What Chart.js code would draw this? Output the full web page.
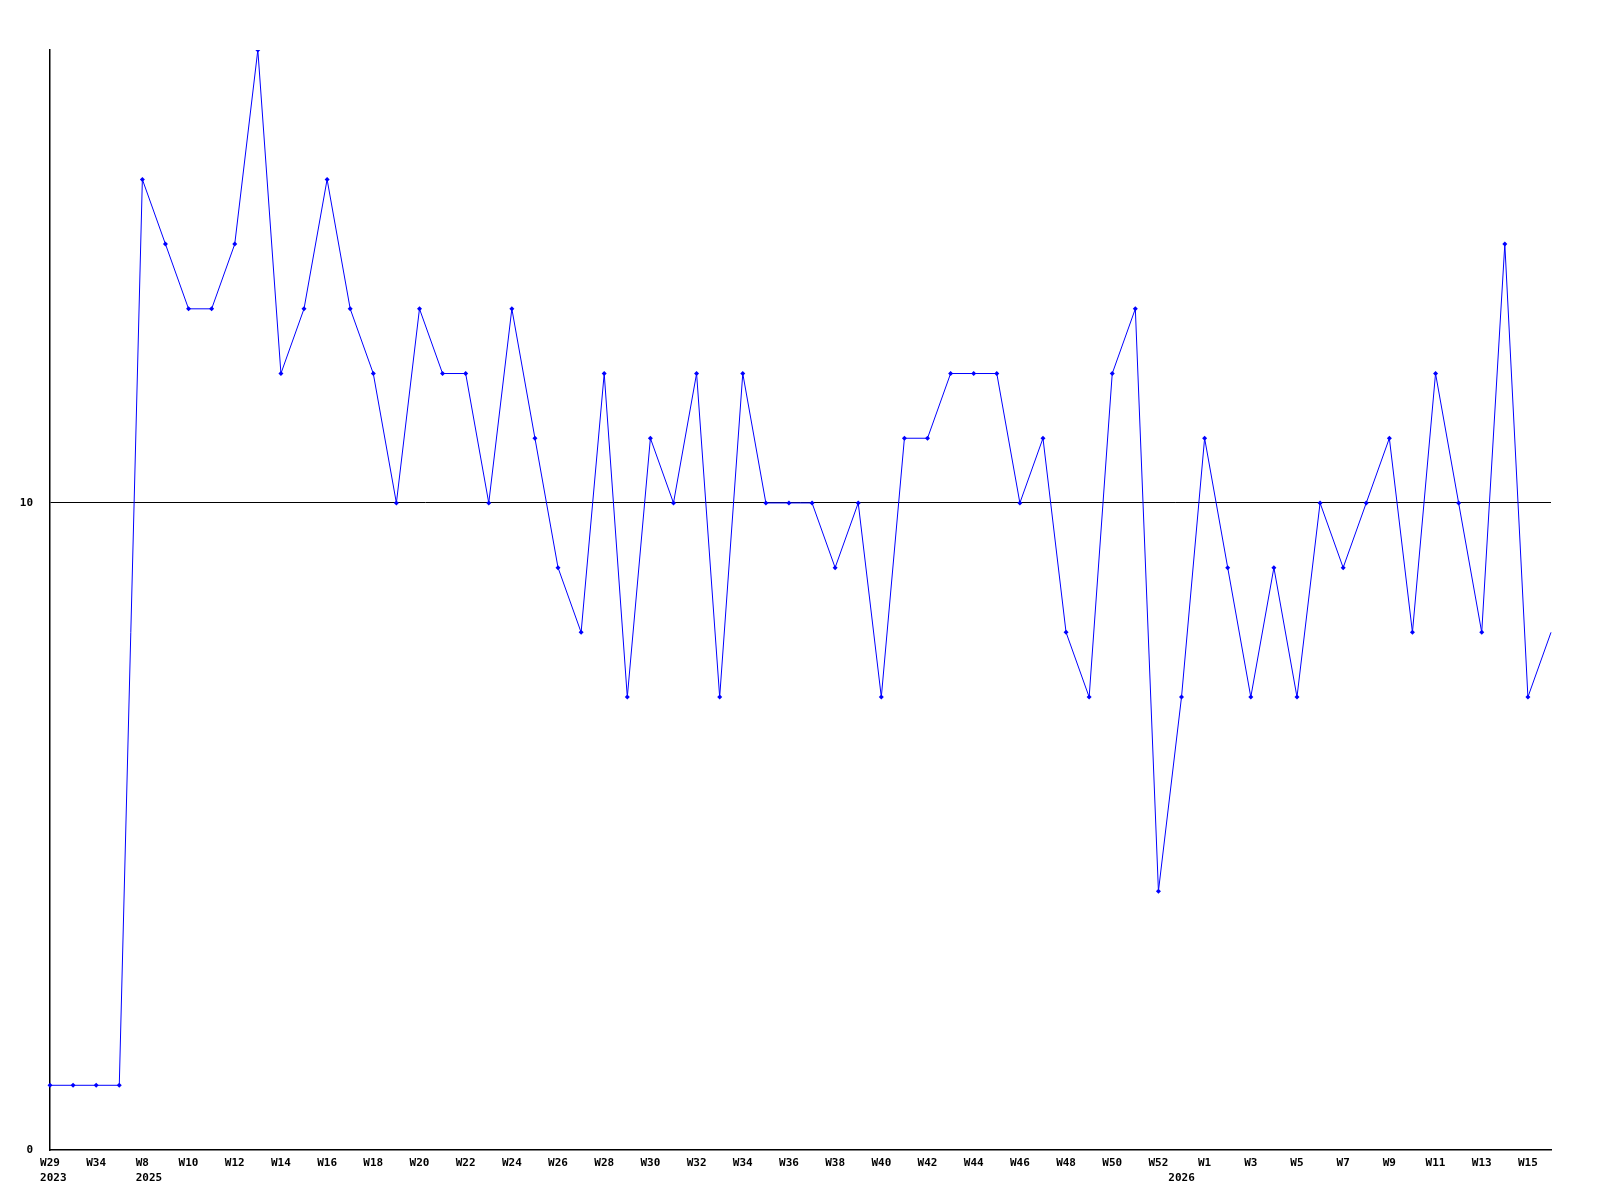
<!DOCTYPE html>
<html>
<head>
<meta charset="utf-8">
<script src="https://cdn.jsdelivr.net/npm/chart.js@4/dist/chart.umd.min.js"></script>
<style>
  html, body { margin: 0; padding: 0; background: #fff; }
  #wrap { width: 1600px; height: 1200px; }
</style>
</head>
<body>
<div id="wrap"><canvas id="weekly"></canvas></div>
<script>
// week labels (only every other one is printed on the axis)
const weeks = ['W29', 'W32', 'W34', 'W36',
  'W8', 'W9', 'W10', 'W11', 'W12', 'W13', 'W14', 'W15', 'W16', 'W17', 'W18', 'W19',
  'W20', 'W21', 'W22', 'W23', 'W24', 'W25', 'W26', 'W27', 'W28', 'W29', 'W30', 'W31',
  'W32', 'W33', 'W34', 'W35', 'W36', 'W37', 'W38', 'W39', 'W40', 'W41', 'W42', 'W43',
  'W44', 'W45', 'W46', 'W47', 'W48', 'W49', 'W50', 'W51', 'W52', 'W53',
  'W1', 'W2', 'W3', 'W4', 'W5', 'W6', 'W7', 'W8', 'W9', 'W10', 'W11', 'W12', 'W13',
  'W14', 'W15', 'W16'];
// year shown under the first week of each year (padded so it sits left-aligned)
const years = { 0: ' 2023', 4: '  2025', 49: '2026' };
const counts = [1, 1, 1, 1,
  15, 14, 13, 13, 14, 17, 12, 13, 15, 13, 12, 10,
  13, 12, 12, 10, 13, 11, 9, 8, 12, 7, 11, 10,
  12, 7, 12, 10, 10, 10, 9, 10, 7, 11, 11, 12,
  12, 12, 10, 11, 8, 7, 12, 13, 4, 7,
  11, 9, 7, 9, 7, 10, 9, 10, 11, 8, 12, 10, 8,
  14, 7, 8];
const yTicks = [0, 10];

const lastIdx = counts.length - 1;

new Chart(document.getElementById('weekly'), {
  type: 'line',
  data: {
    labels: weeks,
    datasets: [{
      data: counts,
      borderColor: '#0000ff',
      backgroundColor: '#0000ff',
      borderWidth: 1,
      tension: 0,
      pointStyle: 'rectRot',
      pointRadius: (c) => c.dataIndex === lastIdx ? 0 : 2.5,
      pointBorderWidth: 0
    }]
  },
  options: {
    responsive: true,
    maintainAspectRatio: false,
    animation: false,
    events: [],
    layout: { padding: { top: 50, right: 49, left: 0, bottom: 0 } },
    plugins: { legend: { display: false }, tooltip: { enabled: false } },
    scales: {
      x: {
        offset: false,
        grid: { display: false, drawTicks: false },
        border: { color: '#000', width: 1.5 },
        afterFit: (s) => { s.height = 50; },
        ticks: {
          autoSkip: false,
          maxRotation: 0,
          padding: 6,
          color: '#000',
          font: { family: 'DejaVu Sans Mono', size: 11, weight: 'bold', lineHeight: 1.35 },
          callback: function(v, i) {
            const wk = i % 2 === 0 ? this.getLabelForValue(v) : '';
            return years[i] ? [wk, years[i]] : wk;
          }
        }
      },
      y: {
        min: 0,
        max: 17,
        afterFit: (s) => { s.width = 50; },
        afterBuildTicks: (s) => { s.ticks = yTicks.map(v => ({ value: v })); },
        border: { color: '#000', width: 1.5 },
        grid: {
          drawTicks: false,
          color: (c) => c.tick && c.tick.value === 10 ? '#000' : 'rgba(0,0,0,0)',
          lineWidth: 1
        },
        ticks: {
          padding: 17,
          color: '#000',
          font: { family: 'DejaVu Sans Mono', size: 11, weight: 'bold' }
        }
      }
    }
  }
});
</script>
</body>
</html>
